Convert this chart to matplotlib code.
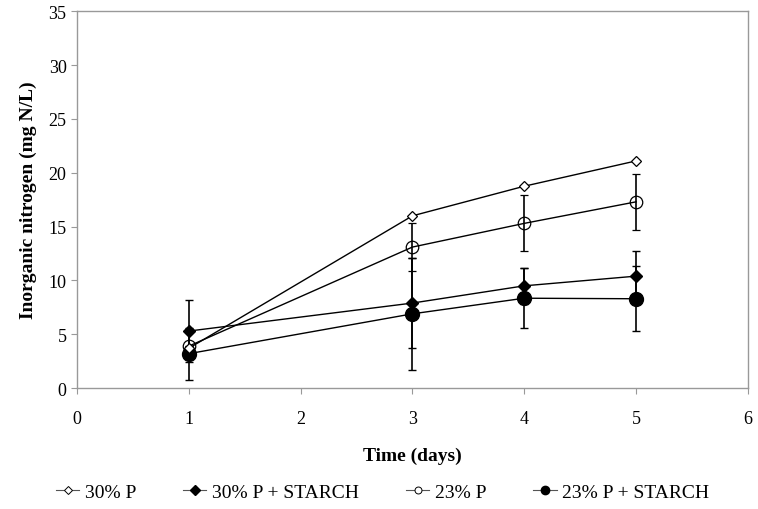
import numpy as np
import matplotlib.pyplot as plt
from matplotlib.lines import Line2D

plt.rcParams['font.family'] = ['Liberation Serif', 'DejaVu Serif']

days = [1, 3, 4, 5]

p30 = [3.7, 16.0, 18.75, 21.1]
p30_starch = [5.3, 7.9, 9.5, 10.4]
p23 = [3.9, 13.1, 15.3, 17.3]
p23_starch = [3.2, 6.9, 8.35, 8.3]

# error bars (standard deviation)
p30_starch_err = [2.9, 4.2, 1.7, 2.3]
p23_err = [0.0, 2.2, 2.6, 2.6]
p23_starch_err = [2.4, 5.2, 2.8, 3.0]

labels = ['30% P', '30% P + STARCH', '23% P', '23% P + STARCH']

fig = plt.figure(figsize=(7.58, 5.10), dpi=100)
ax = fig.add_axes([0.1016, 0.237, 0.885, 0.739])

eb = dict(ecolor='black', elinewidth=1.2, capsize=3, capthick=1.0, lw=1.0, color='black')

ax.plot(days, p30, marker='D', ms=5, mfc='white', mec='black', mew=0.9,
        color='black', lw=1.0, zorder=4)
ax.errorbar(days, p30_starch, yerr=p30_starch_err, marker='D', ms=6, mfc='black',
            mec='black', zorder=3, **eb)
ax.errorbar(days, p23, yerr=p23_err, marker='o', ms=9, mfc='none', mec='black', mew=0.9,
            zorder=3, **eb)
ax.errorbar(days, p23_starch, yerr=p23_starch_err, marker='o', ms=10, mfc='black',
            mec='black', zorder=3, **eb)

ax.set_xlim(0, 6)
ax.set_ylim(0, 35)
ax.set_xticks(range(0, 7))
ax.set_yticks(range(0, 36, 5))
ax.tick_params(direction='out', length=4, color='#999999', labelsize=13)
ax.tick_params(axis='x', pad=12)
for s in ax.spines.values():
    s.set_color('#999999')
    s.set_linewidth(1.0)

ax.set_xlabel('Time (days)', fontsize=14, fontweight='bold', labelpad=14)
ax.set_ylabel('Inorganic nitrogen (mg N/L)', fontsize=14, fontweight='bold', labelpad=8)

handles = [
    Line2D([], [], color='#555555', lw=0.8, marker='D', ms=4, mfc='white', mec='black', mew=0.7),
    Line2D([], [], color='#555555', lw=0.8, marker='D', ms=5, mfc='black', mec='black'),
    Line2D([], [], color='#555555', lw=0.8, marker='o', ms=5, mfc='white', mec='black', mew=0.7),
    Line2D([], [], color='#555555', lw=0.8, marker='o', ms=6, mfc='black', mec='black'),
]
fig.legend(handles, labels, loc='center', bbox_to_anchor=(0.505, 0.033), ncol=4,
           frameon=False, fontsize=14, handlelength=1.2, handletextpad=0.3,
           columnspacing=2.4)

fig.savefig('out.png', dpi=100)
